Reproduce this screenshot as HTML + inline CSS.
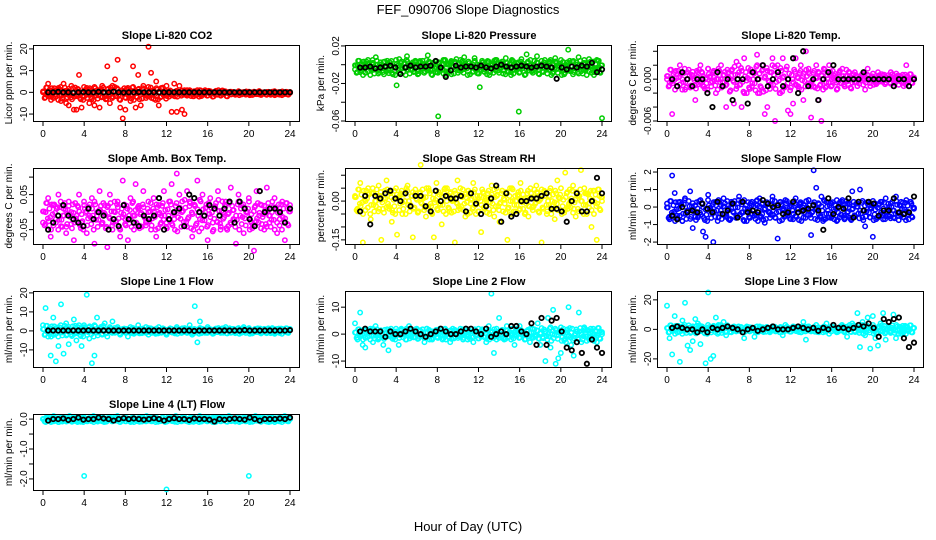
<!DOCTYPE html>
<html><head><meta charset="utf-8"><style>
html,body{margin:0;padding:0;background:#fff}
svg{display:block}
text{font-family:"Liberation Sans",sans-serif}
</style></head><body>
<svg id="chart" width="936" height="540" viewBox="0 0 936 540">
<text x="468" y="14" text-anchor="middle" font-size="13">FEF_090706  Slope Diagnostics</text>
<text x="468" y="531" text-anchor="middle" font-size="13">Hour of Day (UTC)</text>
</svg>
<script>
// ---- data (colored series: evenly spaced over 0-24 h; black: hourly-ish means) ----
const xTicks = [0,4,8,12,16,20,24];
const titles = ["Slope Li-820 CO2","Slope Li-820 Pressure","Slope Li-820 Temp.","Slope Amb. Box Temp.","Slope Gas Stream RH","Slope Sample Flow","Slope Line 1 Flow","Slope Line 2 Flow","Slope Line 3 Flow","Slope Line 4 (LT) Flow"];
const yTitles = ["Licor ppm per min.","kPa per min.","degrees C per min.","degrees C per min.","percent per min.","ml/min per min.","ml/min per min.","ml/min per min.","ml/min per min.","ml/min per min."];
const colors = ["#ff0000","#00cd00","#ff00ff","#ff00ff","#ffff00","#0000ff","#00ffff","#00ffff","#00ffff","#00ffff"];
const yRanges = [[-13.2,21.8],[-0.06,0.021],[-0.006,0.0049],[-0.091,0.126],[-0.166,0.128],[-2.11,2.23],[-19,21],[-12.2,16],[-25.5,26],[-2.37,0.17]];
const yTickVals = [[-10,0,10,20],[0.02,0,-0.02,-0.04,-0.06],[0.004,0.002,0,-0.002,-0.004,-0.006],[0.10,0.05,0,-0.05],[0.10,0.05,0,-0.05,-0.10,-0.15],[2,1,0,-1,-2],[20,10,0,-10],[10,0,-10],[20,0,-20],[0,-0.5,-1,-1.5,-2]];
const yTickLabels = [["-10","0","10","20"],["0.02","","-0.02","","-0.06"],["","","0.000","","","-0.006"],["","0.05","","-0.05"],["","","0.00","","","-0.15"],["2","1","0","-1","-2"],["20","10","0","-10"],["10","0","-10"],["20","0","-20"],["0.0","","-1.0","","-2.0"]];
const valueScale = [1,0.001,0.001,0.01,0.01,1,1,1,1,1];

// dense core band: per-panel centre and half-width per 6-hour quarter
const bandCenter = [-0.5,-0.003,0,-0.01,0,-0.2,0,0,0,-0.02];
const bandHalf = [[3,3,1.5,0.8],[0.008,0.008,0.008,0.008],[0.0015,0.002,0.0015,0.0008],[0.04,0.04,0.045,0.04],[0.05,0.05,0.05,0.05],[0.6,0.6,0.6,0.55],[3,1.5,1.5,1.5],[2,2,2,2.5],[3,2,2,3],[0.08,0.08,0.08,0.08]];
const bandJitter = [3,-7,9,-2,5,-10,1,8,-5,6,-3,10,-8,0,4,-6,7,-1,-9,2,9,-4,6,-7,1,-10,5,3,-2,8,-6,0,10,-3,-8,4,7,-5,2,-9,6,-1,9,-7,3,-4,8,-2,-10,5,1,-6,7,-3,4,-8,10,0,-5,6,-9,2,8,-1,-7,5,-4,9,-2,3,-10,6,1,-6,7,-3,4,-8,0,9,-5,2,-9,8,-1,5,-7,3,10,-4,-2,6,-8,1,7,-6,4,-10,9,-3,0,5,-7,8,-1,2,-9,6,-4,10,-5,3,-2,7,-8,1,9,-6,4,-3,0,8,-10,5,-1,6,-7,2,10,-4,-9,3,7,-2,-5,8,-6,1,4,-8,9,0,-3,6,-10,5,2,-7,8,-1,-4,9,-6,3];

const co2Vals = [0,-1,4,-2,1,-1,2,-4,4,-5,-6,3,-8,-8,8,-7,-2,2,-5,-3,-6,1,-7,3,-2,12,-5,3,6,15,-7,-12,-8,2,-4,12,-7,8,-6,3,-1,21,9,-3,5,-6,2,-1,3,-2,-9,4,-9,3,-8,-10,1,1,-1,0,1,-1,0,1,0,0.5,-0.5,0.3,0,-0.4,0.6,0,-0.5,0.3,0.2,-0.3,0.5,0,-0.2,0.4,-0.5,0,0.3,-0.3,0.6,0,-0.4,0.2,0,-0.3,0.5,0,-0.2,0.4,-0.1,0,0.2];
const co2Black = [0,0,0.2,0,0,-0.2,0,0.1,0,0,0.2,0,0,0.3,0,-0.1,0,0,0.1,0,0,0,0,0,0,0,0,0,0,0,0,0,0,0,0,0,0,0,0,0,0,0,0,0,0,0,0,0,0];
const presVals = [-5,0,-8,3,-2,5,-4,2,8,-6,0,3,-3,-9,4,-2,-22,6,-4,2,9,-1,-5,3,-7,4,1,-3,10,-6,2,-8,-55,-3,5,-7,1,4,-2,6,-6,3,8,-4,-1,-3,7,-9,-24,2,-5,4,-8,0,5,-3,1,-6,7,-2,-8,3,-4,-50,6,-1,11,-3,-6,4,9,-2,-7,5,-4,2,-9,7,-1,-5,3,0,16,-6,4,-3,8,-7,2,-4,6,-1,-8,5,-3,-57];
const presBlack = [-3,-3,-2,-4,-3,-2,-1,-3,-10,-3,-1,-3,-2,-2,-1,4,-3,-13,-6,-1,-3,-2,-2,-3,-1,-3,-4,-2,0,-2,-3,-2,-1,-2,-3,-2,-1,-2,-3,-15,-3,-5,-2,-3,-1,-2,2,-8,-5];
const liTempVals = [0,-0.5,-5,1,-1,2,0,-1.5,1,-1,0.5,-3,1,2,-1,0,1.5,-0.5,1,-2,0,2,-1,-4,1,0.5,-3.5,2.5,1,-4,3,-2,0,-1,1,3.5,-2,2,-5,-4,1,3,-6,2,-2,3,-1,-4.5,-5,-3.5,3,-1,2,-3,4,1,-5.5,-1,2,-3,-6,1,-1,2,0,0.5,-0.5,1,0,-1,0.5,0,-0.5,1,-1,0,0.5,-1.5,1.5,-1,0,-0.5,1,0,0.5,-0.5,0,1,-1,0,0.5,0,-1,2,0,-0.5,0];
const liTempBlack = [0,-1,1,0,-1,0,0,-2,-4,1,-1,0,-3,0,0,-3.5,1,0,2,-1,0,1,-1,0,3,-2,4,-1,0,-3,0,1,2,0,0,0,0,0,1,0,0,0,0,0,-1,0,0,-1,0];
const ambVals = [-3,0,4,-7,2,-2,5,-4,1,-6,3,0,-8,-1,5,-3,2,-6,-1,4,-9,0,6,-3,2,-10,5,-5,0,3,-7,9,-2,-8,4,-1,8,1,-4,6,-3,0,-5,4,-7,2,-1,6,-3,3,8,-2,11,5,0,-4,6,3,-7,2,9,-2,5,0,-8,4,-3,1,6,-5,0,3,-4,7,-2,-9,5,2,-6,0,4,-3,-11,6,-1,2,-5,7,-3,0,4,-6,-2,3,-8,1,2];
const ambBlack = [-5,-3,-1,2,-1,-2,-3,-4,1,-2,0,-1,-5,-2,-4,2,-2,-3,-4,-1,-2,-1,4,-5,-2,0,1,-4,5,4,0,-1,2,1,-1,1,3,-3,3,1,-2,-4,6,0,1,1,0,-3,1];
const rhVals = [2,-4,7,-16,0,5,-7,3,-2,6,-15,1,8,-3,-8,4,-13,2,-5,0,6,-2,-14,3,-4,14,1,-6,5,-2,-14,7,-1,-9,3,5,-4,0,-16,8,-3,2,-6,4,-1,7,-5,1,-12,3,0,-3,6,-6,2,-8,4,-1,-15,5,0,-4,2,7,-3,1,-6,3,-2,6,0,-16,4,-5,2,-2,-7,8,1,-4,11,-3,0,6,-6,2,12,-5,3,-1,-10,4,-15,2,0];
const rhBlack = [-4,2,-9,2,1,3,4,1,0,3,-2,2,2,-2,-4,4,0,2,1,1,2,-4,3,-1,-5,-2,1,6,-8,3,-6,-5,0,0,1,1,2,3,-3,-3,-4,-8,0,3,-4,-4,0,9,3];
const sampleVals = [0.2,-0.7,1.8,0.8,-0.5,0.3,-0.8,0.5,-0.3,0.9,-1.2,0.1,-0.6,0.4,-1.4,-1.7,0.7,-0.2,-2,0.3,-0.6,0.1,0.5,-0.4,-0.7,0.3,0.2,-0.5,0.6,-0.3,0.4,-0.8,-0.2,0.3,-0.5,0.1,0.5,-0.4,-0.9,0.2,-0.3,0.6,-0.6,-1.8,0.3,-0.2,0.4,-0.5,0.1,-0.7,0.5,-0.3,0.2,-0.6,-0.1,0.4,-1.6,2.1,1.1,-0.4,0.6,-0.7,0.3,-0.6,0.2,-0.7,0.4,-0.6,0.3,-0.7,0.2,-0.6,0.9,-0.5,0.2,1,-0.6,-1.1,0.3,-0.6,-1.7,0.2,-0.6,0.3,-0.7,0.5,-0.5,0.2,-0.6,0.6,-0.5,0.3,-0.6,0.4,-0.7,0.2,-0.1];
const sampleBlack = [-0.5,-0.7,0,-0.3,-0.2,-0.3,0.2,-0.1,-0.3,0.3,-0.4,-0.2,0.2,-0.6,0.3,-0.3,-0.2,-0.3,0.4,0.2,0,0.1,-0.4,-0.3,0.3,-0.3,-0.2,-0.1,0.1,-0.2,-1.3,0.5,-0.4,0,-0.1,0.5,-0.6,0.3,-0.2,0.3,0.2,-0.5,-0.2,-0.2,0.5,-0.3,-0.4,-0.3,0.6];
const line1Vals = [3,12,-3,-13,7,-16,-8,14,-12,4,-7,-2,6,-5,3,-8,2,19,-4,-17,-13,7,1,-2,4,-3,2,5,-1,2,-2,1,0,-3,2,-1,1,3,-1,0,2,-2,1,0,-1,2,-1,1,-2,0,1,-1,2,0,-1,1,0,3,-2,13,-6,5,1,-1,2,0,-1,1,0,1,-1,2,0,-1,1,0,1,-1,2,0,1,-1,0,1,0,-1,1,0,1,0,-1,1,0,1,0,0,1];
const line1Black = [0.2,0.2,0.2,0.2,0.2,0.2,0.2,0.2,0.3,0.2,0.2,0.2,0.2,0.2,0.2,0.2,0.2,0.2,0.2,0.2,0.2,0.2,0.2,0.2,0.2,0.2,0.2,0.2,0.2,0,0.2,0.2,0.2,0.2,0.2,0.2,0.2,0.2,0.2,0.4,0.2,0.2,0.2,0.2,0.2,0.2,0.2,0.2,0.4];
const line2Vals = [4,-2,8,-4,-5,1,2,-3,3,-2,1,-4,0,-6,2,-1,1,-4,2,0,-2,3,-1,1,2,-1,0,-3,2,-2,1,0,-1,2,-2,1,0,-3,2,-1,1,0,-2,2,-1,1,-3,0,2,-1,1,-3,3,15,-7,-2,6,1,-2,3,-1,0,-4,2,3,0,-2,1,-3,2,-1,4,-4,-1,-10,6,-5,9,-11,-9,-7,2,-3,10,-4,-8,1,8,-3,2,-1,-2,1,0,-3,1,0];
const line2Black = [1,2,1,1,1,-1,1,0,0,1,2,1,0,-1,0,1,2,1,0,0,1,2,2,1,0,2,-1,0,1,0,3,3,1,0,4,-4,6,-4,5,6,1,-5,-6,-3,-7,-11,-2,-5,-7];
const line3Vals = [16,-6,-17,9,2,-22,6,18,-11,-14,-8,7,4,-10,1,-23,25,-20,-18,8,-2,3,5,-4,1,-2,2,0,-1,1,-6,2,-1,1,-5,0,2,-1,0,1,-2,2,0,-1,1,-4,3,-1,0,2,-1,1,-2,5,-7,2,0,-1,3,-2,1,0,4,-3,2,0,-1,1,3,-2,-5,3,4,-1,11,-12,5,-4,8,-13,9,-6,-11,4,11,-7,2,-1,10,-6,8,-3,-1,2,0,-2,1];
const line3Black = [1,2,1,0,0,-2,0,-2,1,0,1,2,1,0,-2,0,1,-1,0,1,2,0,0,0,1,2,1,0,1,-1,1,0,3,1,1,0,1,3,2,4,1,-5,7,5,7,8,-6,-12,-9];
const line4Vals = [0,-0.1,0.05,-0.05,0.1,0,-0.1,0.05,-0.05,0,0.1,-0.05,0.05,-0.1,0,0.05,0,-0.05,0.05,0.1,-0.05,0,0.05,-0.1,0,0.05,0,-0.05,0.1,0,-0.05,0.05,0,-0.1,0.05,0,-0.05,0.05,0,0.1,-0.05,0,0.05,-0.05,0,0.05,-0.1,0.05,0,-0.05,0.1,0,-0.05,0.05,0,-0.1,0.05,0,-0.05,0.1,0,0.05,-0.05,0,0.05,-0.1,0,0.05,-0.05,0,0.1,-0.05,0,0.05,-0.05,0,0.05,0,-0.05,0.05,0.1,0,-0.05,0.05,0,-0.1,0.05,0,-0.05,0.05,0,0.1,-0.05,0];
const line4Black = [-0.05,0,0,0.02,-0.03,0,0.05,-0.02,0,0,0.05,0.02,0,-0.05,0,0.03,0,0.02,0,-0.02,0,0.03,0,-0.05,0,0.03,0,0,-0.03,0.02,0,0,-0.02,-0.08,0,-0.02,0,0.02,0,-0.02,0.05,0,-0.05,0,0,0,0.02,0,0.05];
const line4OutHours = [4,12,20];
const line4OutVals = [-1.9,-2.35,-1.9];

const seriesVals = [co2Vals,presVals,liTempVals,ambVals,rhVals,sampleVals,line1Vals,line2Vals,line3Vals,line4Vals];
const seriesBlack = [co2Black,presBlack,liTempBlack,ambBlack,rhBlack,sampleBlack,line1Black,line2Black,line3Black,line4Black];

const NS = "http://www.w3.org/2000/svg";
const svg = document.getElementById("chart");
function mk(tag, attrs, parent){
  const e = document.createElementNS(NS, tag);
  for (const k in attrs) e.setAttribute(k, attrs[k]);
  (parent||svg).appendChild(e);
  return e;
}
for (let p = 0; p < 10; p++) {
  const c = p % 3, r = Math.floor(p / 3);
  const left = 34 + 312 * c, top = 45 + 123 * r, w = 266, h = 76;
  const g = mk("g", {});
  
  
  const xS = v => left + 9 + v * (247 / 24);
  const [lo, hi] = yRanges[p];
  const yS = v => top + h - (v - lo) / (hi - lo) * h;
  const t = mk("text", {x: left + w / 2, y: top - 6, "text-anchor": "middle", "font-size": "11", "font-weight": "bold"}, g);
  t.textContent = titles[p];
  
  
  const yt = mk("text", {x: 0, y: 0, "text-anchor": "middle", "font-size": "10"}, g);
  yt.setAttribute("transform", "translate(" + (left - 22) + "," + (top + h / 2) + ") rotate(-90)");
  yt.textContent = yTitles[p];
  
  
  const xa = mk("g", {stroke: "#000", "stroke-width": "1"}, g);
  
  
  mk("line", {x1: xS(0), x2: xS(24), y1: top + h + 0.5, y2: top + h + 0.5}, xa);
  xTicks.forEach(v => {
    mk("line", {x1: xS(v), x2: xS(v), y1: top + h, y2: top + h + 5}, xa);
    const tl = mk("text", {x: xS(v), y: top + h + 16, "text-anchor": "middle", "font-size": "10", stroke: "none"}, xa);
    tl.textContent = v;
    
    
  });
  const ya = mk("g", {stroke: "#000", "stroke-width": "1"}, g);
  
  
  const tv = yTickVals[p];
  mk("line", {x1: left - 0.5, x2: left - 0.5, y1: yS(tv[0]), y2: yS(tv[tv.length - 1])}, ya);
  tv.forEach((v, i) => {
    const yy = yS(v);
    mk("line", {x1: left - 5, x2: left, y1: yy, y2: yy}, ya);
    if (yTickLabels[p][i]) {
      const tl = mk("text", {x: 0, y: 0, transform: "translate(" + (left - 7) + "," + yy + ") rotate(-90)", "text-anchor": "middle", "font-size": "10", stroke: "none"}, ya);
      tl.textContent = yTickLabels[p][i];
      
      
    }
  });
  const sc = valueScale[p];
  const cg = mk("g", {fill: "none", stroke: colors[p], "stroke-width": "1.5"}, g);
  
  
  // dense core band (two passes over the jitter table)
  const nb = bandJitter.length;
  for (let pass = 0; pass < 2; pass++) {
    for (let i = 0; i < nb; i++) {
      const hr = (i + pass * 0.5) * 24 / (nb - 0.5);
      const q = Math.min(3, Math.floor(hr / 6));
      const j = bandJitter[pass ? (nb - 1 - i) : i] / 10;
      const pt = mk("circle", {cx: xS(hr), cy: yS(bandCenter[p] + j * bandHalf[p][q]), r: 2.2}, cg);
      
      
    }
  }
  const vals = seriesVals[p];
  vals.forEach((v, i) => {
    const hr = i * 24 / (vals.length - 1);
    const pt = mk("circle", {cx: xS(hr), cy: yS(v * sc), r: 2.2}, cg);
    
    
  });
  if (p === 9) {
    line4OutHours.forEach((hr, i) => {
      const pt = mk("circle", {cx: xS(hr), cy: yS(line4OutVals[i]), r: 2.2}, cg);
      
      
    });
  }
  const bg = mk("g", {fill: "none", stroke: "#000", "stroke-width": "1.8"}, g);
  
  
  const bv = seriesBlack[p];
  bv.forEach((v, i) => {
    const hr = 0.5 + i * 23.5 / (bv.length - 1);
    const pt = mk("circle", {cx: xS(hr), cy: yS(v * sc), r: 2.2}, bg);
    
    
  });
  const box = mk("rect", {x: left - 0.5, y: top + 0.5, width: w, height: h, fill: "none", stroke: "#000", "stroke-width": "1"}, g);
  
  
}
</script>
</body></html>
